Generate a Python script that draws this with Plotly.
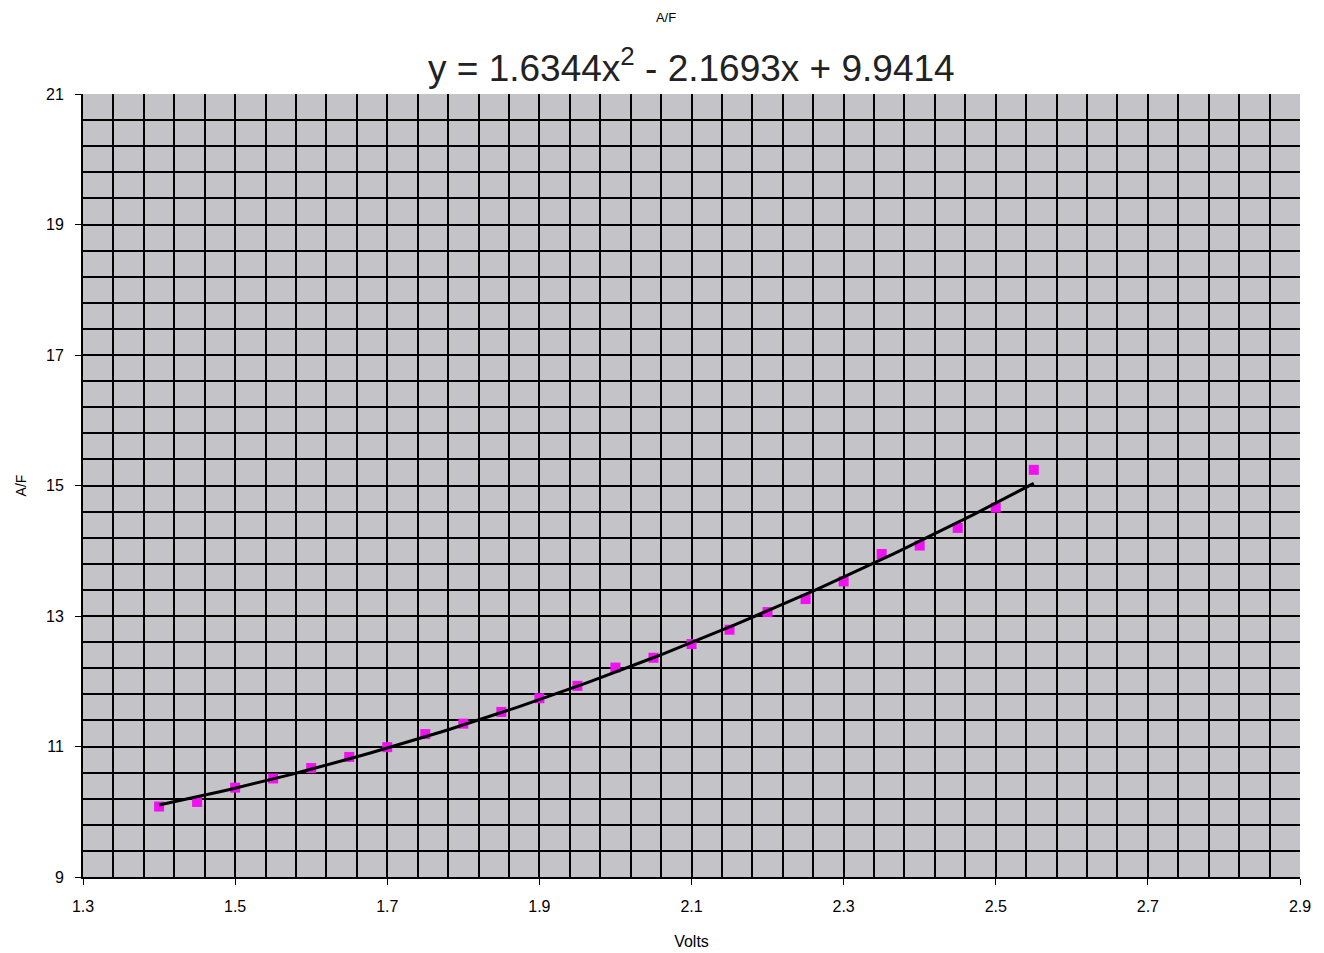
import numpy as np
import plotly.graph_objects as go

volts = [1.40, 1.45, 1.50, 1.55, 1.60, 1.65, 1.70, 1.75, 1.80, 1.85, 1.90, 1.95,
         2.00, 2.05, 2.10, 2.15, 2.20, 2.25, 2.30, 2.35, 2.40, 2.45, 2.50, 2.55]
af = [10.08, 10.15, 10.37, 10.51, 10.67, 10.84, 10.99, 11.19, 11.35, 11.53, 11.74, 11.93,
      12.21, 12.36, 12.57, 12.79, 13.06, 13.26, 13.53, 13.95, 14.08, 14.35, 14.66, 15.24]

x_range = [1.3, 2.9]
y_range = [9, 21]
x_major, x_minor = 0.2, 0.04
y_major, y_minor = 2, 0.4
equation = "y = 1.6344x<sup>2</sup> - 2.1693x + 9.9414"

# second order trendline, as in the spreadsheet
coef = np.polyfit(volts, af, 2)
fit_x = np.linspace(min(volts), max(volts), 100)
fit_y = np.polyval(coef, fit_x)

font = "Liberation Sans, Arial, sans-serif"

fig = go.Figure()
fig.add_trace(go.Scatter(x=volts, y=af, mode="markers",
                         marker=dict(symbol="square", size=10, color="#f010f0"),
                         showlegend=False))
fig.add_trace(go.Scatter(x=fit_x, y=fit_y, mode="lines",
                         line=dict(color="black", width=3), showlegend=False))

# page body has an 8px margin, so the figure is a bit smaller than the window
fig.update_layout(
    width=1316, height=945,
    margin=dict(l=75, r=24, t=86, b=76),
    paper_bgcolor="white", plot_bgcolor="#c4c4c8",
    font=dict(family=font, color="black", size=14),
    title=dict(text="A/F", x=0.5, xanchor="center", y=0.99, yanchor="middle",
               font=dict(size=13, family=font)),
    annotations=[dict(text=equation, xref="paper", yref="paper", x=0.5, y=1.036,
                      xanchor="center", yanchor="middle", showarrow=False,
                      font=dict(size=37, family=font, color="#222"))],
)
fig.update_xaxes(
    range=x_range, tickmode="linear", tick0=x_range[0], dtick=x_major,
    showgrid=True, gridcolor="black", gridwidth=2,
    minor=dict(tick0=x_range[0], dtick=x_minor, showgrid=True, gridcolor="black", gridwidth=2),
    ticks="outside", ticklen=6, tickcolor="black", ticklabelstandoff=8,
    showline=True, linecolor="black", linewidth=2, zeroline=False, automargin=False,
    title=dict(text="Volts", font=dict(size=16), standoff=22),
    tickfont=dict(size=16),
)
fig.update_yaxes(
    range=y_range, tickmode="linear", tick0=y_range[0], dtick=y_major,
    showgrid=True, gridcolor="black", gridwidth=2,
    minor=dict(tick0=y_range[0], dtick=y_minor, showgrid=True, gridcolor="black", gridwidth=2),
    ticks="outside", ticklen=6, tickcolor="black", ticklabelstandoff=8,
    showline=True, linecolor="black", linewidth=2, zeroline=False, automargin=False,
    title=dict(text="A/F", font=dict(size=14), standoff=16),
    tickfont=dict(size=16),
)

fig.write_html("out.html")
